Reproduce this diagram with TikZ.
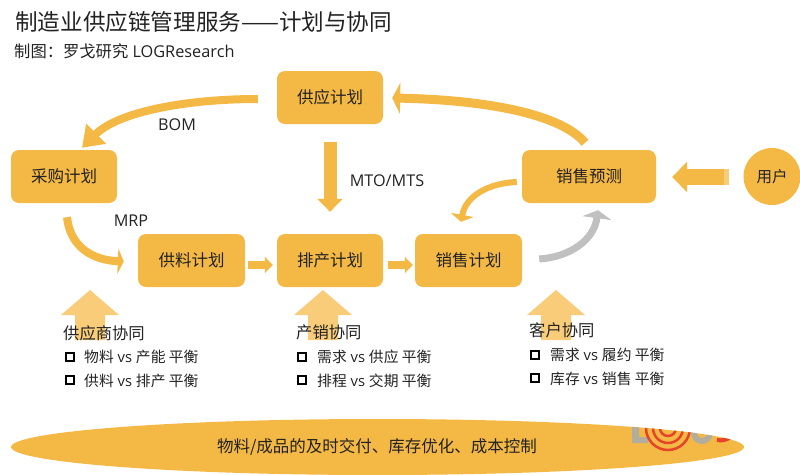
\documentclass[tikz,border=0pt]{standalone}
\usepackage{fontspec}
\setmainfont{Open Sans}
\newfontfamily\Z{Noto Sans CJK SC}
\usetikzlibrary{arrows.meta,calc,shapes.geometric}
\definecolor{org}{HTML}{F4B844}
\definecolor{lorg}{HTML}{F8CC78}
\definecolor{gry}{HTML}{C0C0C0}
\definecolor{ink}{HTML}{222222}
\definecolor{lgrey}{HTML}{B2AD9C}
\definecolor{lred}{HTML}{E5432A}
\newcommand{\fs}[1]{\fontsize{#1}{#1}\selectfont}
\tikzset{
  box/.style={fill=org,rounded corners=8pt,minimum height=53pt,inner sep=0pt,text=ink,font=\Z\fs{16.5}},
  lbl/.style={inner sep=0pt,text=ink,font=\fs{16.2}},
  head/.style={inner sep=0pt,anchor=west,text=ink,font=\Z\fs{16.3}},
  item/.style={inner sep=0pt,anchor=west,text=ink,font=\fs{14.8}},
  tick/.style={draw=black,line width=2pt,fill=white,minimum size=8pt,inner sep=0pt},
  conn/.style={draw=org,line width=#1},
  conn/.default=8pt,
}
\begin{document}
\begin{tikzpicture}[x=1pt,y=-1pt]
\useasboundingbox (0,0) rectangle (800,474);
% titles
\node[anchor=west,inner sep=0pt,text=ink,font=\Z\fs{22.6}] (title) at (15,22) {制造业供应链管理服务——计划与协同};
\node[anchor=west,inner sep=0pt,text=ink,font=\fs{16.3}] (sub) at (14,51.5) {{\Z 制图：罗戈研究} LOGResearch};
% light up arrows
\foreach \c/\n in {90/a,323/b,556/c}{
  \fill[lorg] (\c,290) -- (\c+29,315) -- (\c+15,315) -- (\c+15,340) -- (\c-15,340) -- (\c-15,315) -- (\c-29,315) -- cycle;
}
% plan boxes
\node[box,minimum width=106pt] (gy) at (330,97.5) {供应计划};
\node[box,minimum width=106pt] (cg) at (64,176.5) {采购计划};
\node[box,minimum width=107pt] (gl) at (191.5,260.5) {供料计划};
\node[box,minimum width=106pt] (pc) at (330,260.5) {排产计划};
\node[box,minimum width=107pt] (xs) at (468.5,260.5) {销售计划};
\node[box,minimum width=134pt] (yc) at (589,176.5) {销售预测};
\node[circle,fill=org,minimum size=57pt,inner sep=0pt,text=ink,font=\Z\fs{15.5}] (yh) at (772,176.5) {用户};
% connectors
\draw[conn=8pt,-{Triangle[length=20pt,width=27pt]}] ($(gy.west)+(-19,1.5)$) .. controls (185,99) and (118,112) .. ($(cg.north)+(18,-2)$);
\draw[conn=13pt,-{Triangle[length=13pt,width=25pt]}] ($(gy.south)+(0,18)$) -- ($(pc.north)+(0,-22)$);
\draw[conn=8pt,-{Triangle[length=6pt,width=25pt]}] ($(cg.south)+(3,14)$) .. controls (70,245) and (90,260) .. ($(gl.west)+(-14,1)$);
\draw[conn=8pt,-{Triangle[length=8pt,width=16pt]}] ($(gl.east)+(3,4.5)$) -- ($(pc.west)+(-4,4.5)$);
\draw[conn=8pt,-{Triangle[length=8pt,width=16pt]}] ($(pc.east)+(5,4.5)$) -- ($(xs.west)+(-2,4.5)$);
\draw[conn=9pt,-{Triangle[length=8pt,width=31pt]}] ($(yc.north)+(-4,-7)$) .. controls (562,115) and (490,100) .. ($(gy.east)+(9,0.5)$);
\draw[conn=6pt,-{Triangle[length=7pt,width=23pt]}] ($(yc.west)+(-5,5.5)$) .. controls (490,183) and (466,195) .. ($(xs.north)+(-7.5,-12)$);
\draw[draw=gry,line width=7pt,-{Triangle[length=8pt,width=29pt]}] ($(xs.east)+(17,-1.5)$) .. controls (570,257) and (594,240) .. ($(yc.south)+(9,7)$);
\draw[conn=16pt,-{Triangle[length=15pt,width=30pt]}] ($(yh.west)+(-19.5,0.5)$) -- ($(yc.east)+(16,0.5)$);
\fill[lorg] ($(yh.west)+(-19.5,-7.5)$) rectangle ($(yh.west)+(-14.5,8.5)$);
% edge labels
\node[lbl] (bom) at (177,125) {BOM};
\node[lbl] (mrp) at (131,221) {MRP};
\node[lbl] (mto) at (387,181) {MTO/MTS};
% cooperation lists
\node[head] (h1) at (63,333) {供应商协同};
\node[tick] (t1a) at (70,356.5) {};
\node[item] (i1a) at (84,357) {{\Z 物料} vs {\Z 产能 平衡}};
\node[tick] (t1b) at (70,380) {};
\node[item] (i1b) at (84,380.5) {{\Z 供料} vs {\Z 排产 平衡}};
\node[head] (h2) at (296,332.5) {产销协同};
\node[tick] (t2a) at (302,356.5) {};
\node[item] (i2a) at (317,357) {{\Z 需求} vs {\Z 供应 平衡}};
\node[tick] (t2b) at (302,380) {};
\node[item] (i2b) at (317,381) {{\Z 排程} vs {\Z 交期 平衡}};
\node[head] (h3) at (529,330.5) {客户协同};
\node[tick] (t3a) at (535,354.5) {};
\node[item] (i3a) at (550,355) {{\Z 需求} vs {\Z 履约 平衡}};
\node[tick] (t3b) at (535,378) {};
\node[item] (i3b) at (550,379) {{\Z 库存} vs {\Z 销售 平衡}};
% bottom band with clipped logo
\node[ellipse,fill=org,minimum width=733pt,minimum height=56pt,inner sep=0pt] (band) at (377.5,447) {};
\begin{scope}
  \clip (377.5,447) ellipse [x radius=366.5, y radius=28];
  \fill[lgrey] (632,400) rectangle (639,443) (632,437) rectangle (648,443);
  \draw[lred,line width=2.5pt] (668,428) circle [radius=8] (668,428) circle [radius=15] (668,428) circle [radius=22];
  \draw[lgrey,line width=6pt] (702,433) circle [radius=8];
  \draw[lred,line width=4pt] (717,440) .. controls (722,441) and (726,440) .. (731,437);
\end{scope}
\node[inner sep=0pt,text=ink,font=\Z\fs{16.5}] (bandtext) at (377,447) {物料/成品的及时交付、库存优化、成本控制};
\end{tikzpicture}
\end{document}
